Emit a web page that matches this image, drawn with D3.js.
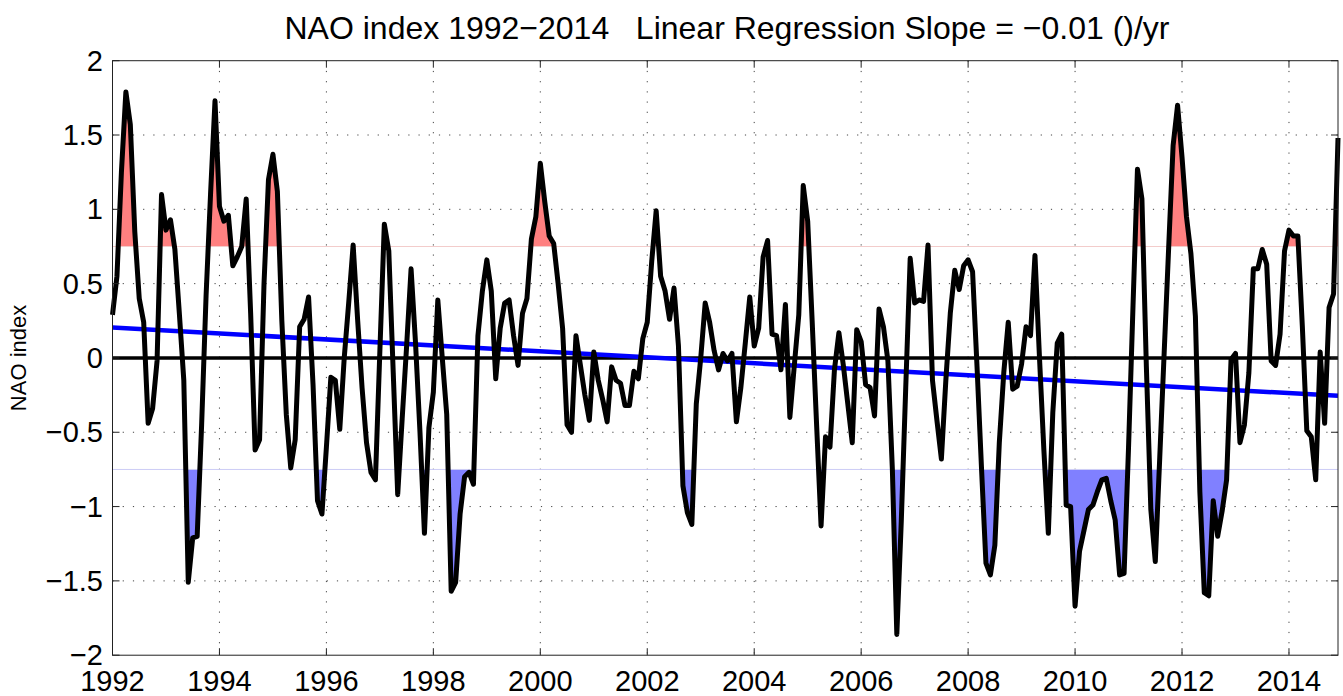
<!DOCTYPE html>
<html>

<head>
    <meta charset="utf-8">
    <style>
        body {
            margin: 0;
            background: white;
            font-family: 'Liberation Sans', Arial, sans-serif;
        }

        svg {
            display: block;
        }

        .grid line {
            stroke: #444;
            stroke-width: 1;
            stroke-dasharray: 1.2, 9;
        }
    </style>
</head>

<body>
    <svg width="1343" height="696"></svg>

    <script src="https://d3js.org/d3.v7.min.js"></script>

    <script>
        // monthly NAO index, Jan 1992 .. Dec 2014 (one row per year)
        let years = d3.range(1992, 2015)
        let nao = [
            [0.29, 0.55, 1.25, 1.79, 1.57, 0.85, 0.4, 0.24, -0.44, -0.34, -0.02, 1.1],
            [0.86, 0.93, 0.73, 0.3, -0.15, -1.51, -1.21, -1.2, -0.45, 0.42, 1.1, 1.73],
            [1.02, 0.92, 0.96, 0.62, 0.68, 0.75, 1.07, 0.3, -0.62, -0.55, 0.5, 1.2],
            [1.37, 1.12, 0.25, -0.38, -0.74, -0.55, 0.21, 0.26, 0.41, -0.18, -0.96, -1.05],
            [-0.6, -0.13, -0.15, -0.48, 0.0, 0.37, 0.76, 0.26, -0.2, -0.57, -0.77, -0.82],
            [0.05, 0.9, 0.72, -0.1, -0.92, -0.41, 0.08, 0.6, 0.1, -0.5, -1.18, -0.47],
            [-0.23, 0.39, 0.0, -0.38, -1.57, -1.51, -1.05, -0.8, -0.77, -0.85, 0.15, 0.45],
            [0.66, 0.45, -0.14, 0.2, 0.37, 0.39, 0.15, -0.05, 0.3, 0.4, 0.8, 0.95],
            [1.31, 1.05, 0.82, 0.77, 0.5, 0.2, -0.45, -0.5, 0.15, -0.05, -0.25, -0.42],
            [0.04, -0.15, -0.28, -0.43, -0.06, -0.15, -0.17, -0.32, -0.32, -0.09, -0.14, 0.13],
            [0.24, 0.65, 0.99, 0.55, 0.45, 0.26, 0.47, 0.08, -0.86, -1.04, -1.12, -0.31],
            [0.0, 0.37, 0.24, 0.05, -0.08, 0.03, -0.02, 0.03, -0.43, -0.2, 0.1, 0.41],
            [0.08, 0.2, 0.68, 0.79, 0.16, 0.15, -0.08, 0.36, -0.4, -0.05, 0.29, 1.16],
            [0.92, 0.25, -0.45, -1.13, -0.53, -0.6, -0.08, 0.17, -0.05, -0.31, -0.57, 0.19],
            [0.11, -0.18, -0.2, -0.39, 0.33, 0.21, -0.02, -0.75, -1.86, -1.1, -0.2, 0.67],
            [0.37, 0.39, 0.38, 0.76, -0.15, -0.42, -0.68, -0.15, 0.3, 0.59, 0.46, 0.62],
            [0.66, 0.58, -0.06, -0.74, -1.38, -1.46, -1.26, -0.57, -0.1, 0.24, -0.21, -0.19],
            [-0.04, 0.21, 0.15, 0.69, 0.01, -0.62, -1.18, -0.37, 0.1, 0.16, -0.99, -1.0],
            [-1.67, -1.3, -1.16, -1.02, -0.99, -0.9, -0.82, -0.81, -0.96, -1.09, -1.46, -1.45],
            [-0.6, 0.35, 1.27, 1.07, -0.06, -1.02, -1.37, -0.67, 0.04, 0.74, 1.43, 1.7],
            [1.35, 0.95, 0.7, 0.28, -0.9, -1.58, -1.6, -0.96, -1.2, -1.03, -0.82, -0.01],
            [0.03, -0.57, -0.45, -0.1, 0.6, 0.6, 0.73, 0.63, -0.02, -0.05, 0.16, 0.72],
            [0.86, 0.82, 0.82, 0.21, -0.49, -0.53, -0.82, 0.04, -0.44, 0.34, 0.43, 1.48]
        ]

        // regression line read at the two ends of the record
        let trendEnds = [0.205, -0.255]
        let threshold = 0.75

        let xTicks = d3.range(1992, 2015, 2)
        let yTicks = [-2, -1.5, -1, -0.5, 0, 0.5, 1, 1.5, 2]

        let titleText = "NAO index 1992\u22122014   Linear Regression Slope = \u22120.01 ()/yr"
        let yLabel = "NAO index"

        let data = []
        years.forEach((yr, k) => {
            nao[k].forEach((v, m) => data.push({ t: yr + m / 12, v: v }))
        })

        let svg = d3.select("svg")

        let plotL = 112.5, plotR = 1338, plotT = 60.7, plotB = 655.2

        let x = d3.scaleLinear()
            .domain([data[0].t, data[data.length - 1].t])
            .range([plotL, plotR])

        let y = d3.scaleLinear()
            .domain([-2, 2])
            .range([plotB, plotT])

        let fmt = d => (d < 0 ? "\u2212" : "") + Math.abs(d)

        // dotted grid
        let grid = svg.append("g").attr("class", "grid")
        grid.selectAll(".gx")
            .data(xTicks.slice(1))
            .join("line")
            .attr("x1", d => x(d)).attr("x2", d => x(d))
            .attr("y1", plotT).attr("y2", plotB)
        grid.selectAll(".gy")
            .data(yTicks.slice(1, -1))
            .join("line")
            .attr("x1", plotL).attr("x2", plotR)
            .attr("y1", d => y(d)).attr("y2", d => y(d))

        // faint threshold lines
        svg.append("line")
            .attr("x1", plotL).attr("x2", plotR)
            .attr("y1", y(threshold)).attr("y2", y(threshold))
            .attr("stroke", "#efe6e4").attr("stroke-width", 1)
        svg.append("line")
            .attr("x1", plotL).attr("x2", plotR)
            .attr("y1", y(-threshold)).attr("y2", y(-threshold))
            .attr("stroke", "#e6e6f2").attr("stroke-width", 1)

        // shaded excursions beyond +/- threshold
        let defs = svg.append("defs")
        defs.append("clipPath").attr("id", "clipHi")
            .append("rect")
            .attr("x", plotL).attr("y", plotT)
            .attr("width", plotR - plotL).attr("height", y(threshold) - plotT)
        defs.append("clipPath").attr("id", "clipLo")
            .append("rect")
            .attr("x", plotL).attr("y", y(-threshold))
            .attr("width", plotR - plotL).attr("height", plotB - y(-threshold))

        let areaHi = d3.area()
            .x(d => x(d.t))
            .y0(y(threshold))
            .y1(d => y(d.v))
        let areaLo = d3.area()
            .x(d => x(d.t))
            .y0(y(-threshold))
            .y1(d => y(d.v))

        svg.append("path")
            .datum(data)
            .attr("d", areaHi)
            .attr("fill", "#ff8080")
            .attr("clip-path", "url(#clipHi)")
        svg.append("path")
            .datum(data)
            .attr("d", areaLo)
            .attr("fill", "#8080ff")
            .attr("clip-path", "url(#clipLo)")

        // zero line
        svg.append("line")
            .attr("x1", plotL).attr("x2", plotR)
            .attr("y1", y(0)).attr("y2", y(0))
            .attr("stroke", "black").attr("stroke-width", 3.5)

        // trend line
        svg.append("line")
            .attr("x1", x(data[0].t)).attr("x2", x(data[data.length - 1].t))
            .attr("y1", y(trendEnds[0])).attr("y2", y(trendEnds[1]))
            .attr("stroke", "#0000ff").attr("stroke-width", 4.5)

        // index line
        let line = d3.line()
            .x(d => x(d.t))
            .y(d => y(d.v))

        svg.append("path")
            .datum(data)
            .attr("d", line)
            .attr("fill", "none")
            .attr("stroke", "black")
            .attr("stroke-width", 5)
            .attr("stroke-linejoin", "round")

        // box and inward ticks
        svg.append("rect")
            .attr("x", plotL).attr("y", plotT)
            .attr("width", plotR - plotL).attr("height", plotB - plotT)
            .attr("fill", "none").attr("stroke", "#222").attr("stroke-width", 1)

        let tickLen = 7
        let ticks = svg.append("g").attr("stroke", "#222").attr("stroke-width", 1)
        xTicks.forEach(d => {
            ticks.append("line").attr("x1", x(d)).attr("x2", x(d)).attr("y1", plotB).attr("y2", plotB - tickLen)
            ticks.append("line").attr("x1", x(d)).attr("x2", x(d)).attr("y1", plotT).attr("y2", plotT + tickLen)
        })
        yTicks.forEach(d => {
            ticks.append("line").attr("x1", plotL).attr("x2", plotL + tickLen).attr("y1", y(d)).attr("y2", y(d))
            ticks.append("line").attr("x1", plotR).attr("x2", plotR - tickLen).attr("y1", y(d)).attr("y2", y(d))
        })

        // tick labels
        svg.append("g")
            .selectAll("text")
            .data(xTicks)
            .join("text")
            .attr("x", d => x(d))
            .attr("y", 691)
            .attr("text-anchor", "middle")
            .style("font-size", "29px")
            .text(d => d)

        svg.append("g")
            .selectAll("text")
            .data(yTicks)
            .join("text")
            .attr("x", 103)
            .attr("y", d => y(d) + 10)
            .attr("text-anchor", "end")
            .style("font-size", "29px")
            .text(fmt)

        svg.append("text")
            .attr("transform", "translate(26," + y(0) + ") rotate(-90)")
            .attr("text-anchor", "middle")
            .style("font-size", "22px")
            .text(yLabel)

        svg.append("text")
            .attr("x", 727)
            .attr("y", 39)
            .attr("text-anchor", "middle")
            .style("font-size", "32px")
            .style("white-space", "pre")
            .text(titleText)
    </script>
</body>

</html>
